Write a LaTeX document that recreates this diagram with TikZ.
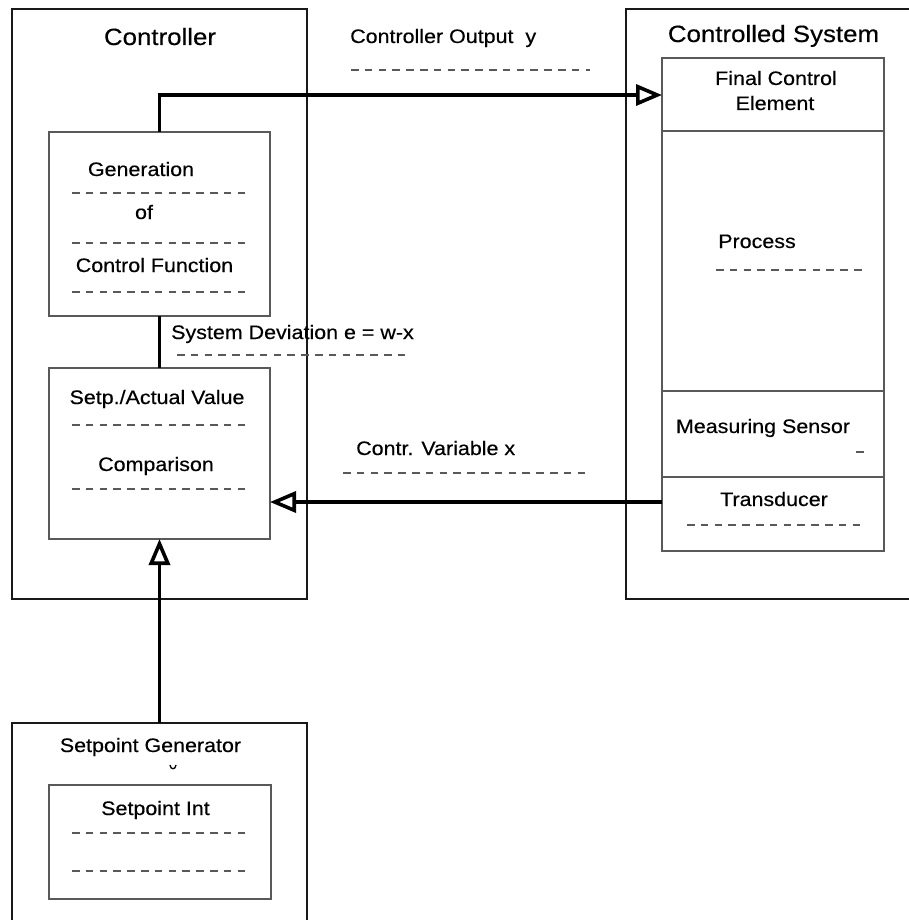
\documentclass[tikz,border=0pt]{standalone}
\usepackage{fontspec}
\setmainfont{Liberation Sans}[FakeStretch=1.1,FakeBold=0.4]
\usetikzlibrary{arrows.meta}

\begin{document}
\begin{tikzpicture}[x=1pt,y=-1pt,
  outerbox/.style={draw=black!90, line width=1.5pt, anchor=north west, inner sep=0pt, outer sep=0pt},
  innerbox/.style={draw=black!65, line width=1.1pt, anchor=north west, inner sep=0pt, outer sep=0pt},
  lbl/.style={anchor=base, inner sep=0pt, font=\fontsize{19.5}{23}\selectfont},
  lblw/.style={lbl, anchor=base west},
  title/.style={lbl, font=\fontsize{23.5}{28}\selectfont},
  dashline/.style={draw=black!65, line width=1.1pt, dash pattern=on 7.5pt off 6.3pt},
  signal/.style={line width=3.2pt, -{Triangle[open, length=26pt, width=21pt, line width=3.6pt]}},
  link/.style={line width=2.7pt}]
\useasboundingbox (0,0) rectangle (909,920);

% outer blocks
\node[outerbox, minimum width=295pt, minimum height=590pt] (ctrl) at (12,9) {};
\node[outerbox, minimum width=330pt, minimum height=590pt] (plant) at (626,9) {};
\node[outerbox, minimum width=295pt, minimum height=240pt] (spg) at (12,723) {};

% controller parts
\node[innerbox, minimum width=221pt, minimum height=184pt] (gen) at (49,132) {};
\node[innerbox, minimum width=221pt, minimum height=171pt] (cmp) at (49,368) {};

% controlled system parts
\node[innerbox, minimum width=222pt, minimum height=73pt] (fce) at (662,58) {};
\node[innerbox, minimum width=222pt, minimum height=260pt] (proc) at (662,131) {};
\node[innerbox, minimum width=222pt, minimum height=86pt] (meas) at (662,391) {};
\node[innerbox, minimum width=222pt, minimum height=74pt] (trans) at (662,477) {};

% setpoint part
\node[innerbox, minimum width=222pt, minimum height=114pt] (spi) at (49,785) {};

% titles
\node[title] (tctrl) at (160,45) {Controller};
\node[title] (tplant) at (773.5,42) {Controlled System};

% labels
\node[lblw] (tout) at (350,43) {Controller Output\ \ y};
\node[lbl] (tgen1) at (141,176) {Generation};
\node[lbl] (tgen2) at (144,219) {of};
\node[lbl] (tgen3) at (154.5,272) {Control Function};
\node[lblw] (tdev) at (171,339) {System Deviation e = w-x};
\node[lbl] (tcmp1) at (157,404) {Setp./Actual Value};
\node[lbl] (tcmp2) at (156,471) {Comparison};
\node[lblw] (tvar) at (356,455) {Contr. Variable x};
\node[lbl] (tfce1) at (776,85) {Final Control};
\node[lbl] (tfce2) at (775,110) {Element};
\node[lbl] (tproc) at (757,248) {Process};
\node[lbl] (tmeas) at (763,433) {Measuring Sensor};
\node[lbl] (ttrans) at (774,506) {Transducer};
\node[lbl] (tspg) at (150.5,752) {Setpoint Generator};
\node[lbl] (tspi) at (155.5,815) {Setpoint Int};

% dashed underlines
\draw[dashline] (351,70) -- (590,70);
\draw[dashline] (72,193) -- (249,193);
\draw[dashline] (72,243) -- (249,243);
\draw[dashline] (72,292) -- (249,292);
\draw[dashline] (177,355) -- (405,355);
\draw[dashline] (72,425) -- (249,425);
\draw[dashline] (72,489) -- (249,489);
\draw[dashline] (343,473) -- (585,473);
\draw[dashline] (716,270) -- (866,270);
\draw[dashline] (856,452) -- (865,452);
\draw[dashline] (687,525) -- (866,525);
\draw[dashline] (72,833) -- (250,833);
\draw[dashline] (72,871) -- (250,871);

% stray descender below the setpoint generator title
\draw[line width=1.3pt] (170,765) .. controls (170.5,770) and (175.5,770) .. (176,765);

% signal paths
\coordinate (bend) at (gen.north |- 0,95);
\coordinate (fb) at (0,502);
\draw[signal] (gen.north) -- (bend) -- (fce.west |- bend);
\draw[link] (gen.south) -- (cmp.north);
\draw[signal] (trans.west |- fb) -- (cmp.east |- fb);
\draw[signal] (spg.north) -- (cmp.south);
\end{tikzpicture}
\end{document}
